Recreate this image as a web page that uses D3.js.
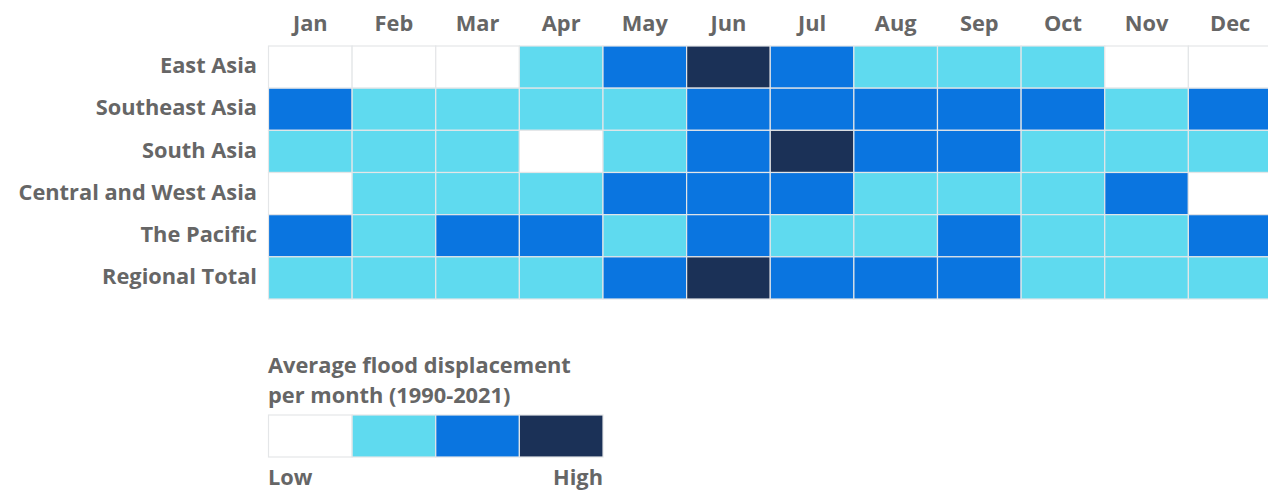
<!DOCTYPE html>
<html><head><meta charset="utf-8">
<script src="https://cdn.jsdelivr.net/npm/d3@7"></script>
<style>
html,body{margin:0;padding:0;background:#fff;overflow:hidden;}
text{font-family:"Open Sans",sans-serif;font-weight:700;fill:#666;}
</style></head>
<body><svg id="c" width="1268" height="493"></svg>
<script>
const months = ["Jan","Feb","Mar","Apr","May","Jun","Jul","Aug","Sep","Oct","Nov","Dec"];
const regions = ["East Asia","Southeast Asia","South Asia","Central and West Asia","The Pacific","Regional Total"];
const eastAsia      = [0,0,0,1,2,3,2,1,1,1,0,0];
const southeastAsia = [2,1,1,1,1,2,2,2,2,2,1,2];
const southAsia     = [1,1,1,0,1,2,3,2,2,1,1,1];
const centralWest   = [0,1,1,1,2,2,2,1,1,1,2,0];
const pacific       = [2,1,2,2,1,2,1,1,2,1,1,2];
const regionalTotal = [1,1,1,1,2,3,2,2,2,1,1,1];
const levels = [0,1,2,3];
const levelColors = ["#ffffff","#5fdaef","#0a75e0","#1b3157"];
const legendTitle = ["Average flood displacement","per month (1990-2021)"];
const legendEnds = ["Low","High"];

const rows = [eastAsia,southeastAsia,southAsia,centralWest,pacific,regionalTotal];
const svg = d3.select("#c");
const fs = 21.8;
const x = d3.scaleBand().domain(months).range([268.5, 1272]);
const y = d3.scaleBand().domain(regions).range([46, 299]);
const color = d3.scaleOrdinal().domain(levels).range(levelColors);

const cells = [];
rows.forEach((vals,i)=>vals.forEach((v,j)=>cells.push({r:regions[i],m:months[j],v})));
svg.append("g").selectAll("rect").data(cells).join("rect")
  .attr("x",d=>x(d.m)).attr("y",d=>y(d.r))
  .attr("width",x.bandwidth()).attr("height",y.bandwidth())
  .attr("fill",d=>color(d.v)).attr("stroke","#e4e6e8").attr("stroke-width",1.2);

svg.append("g").selectAll("text").data(months).join("text")
  .attr("x",d=>x(d)+x.bandwidth()/2).attr("y",31)
  .attr("text-anchor","middle").attr("font-size",fs).text(d=>d);

svg.append("g").selectAll("text").data(regions).join("text")
  .attr("x",257).attr("y",d=>y(d)+y.bandwidth()/2)
  .attr("dy","0.28em").attr("text-anchor","end").attr("font-size",fs).text(d=>d);

// legend
const lx = d3.scaleBand().domain(levels).range([268.5, 603]);
svg.append("g").selectAll("rect").data(levels).join("rect")
  .attr("x",d=>lx(d)).attr("y",415).attr("width",lx.bandwidth()).attr("height",42)
  .attr("fill",d=>color(d)).attr("stroke","#e4e6e8").attr("stroke-width",1.2);
svg.append("g").selectAll("text").data(legendTitle).join("text")
  .attr("x",268).attr("y",(d,i)=>373+i*30).attr("font-size",fs).text(d=>d);
svg.append("text").attr("x",268).attr("y",485).attr("font-size",fs).text(legendEnds[0]);
svg.append("text").attr("x",603).attr("y",485).attr("text-anchor","end").attr("font-size",fs).text(legendEnds[1]);
</script></body></html>
